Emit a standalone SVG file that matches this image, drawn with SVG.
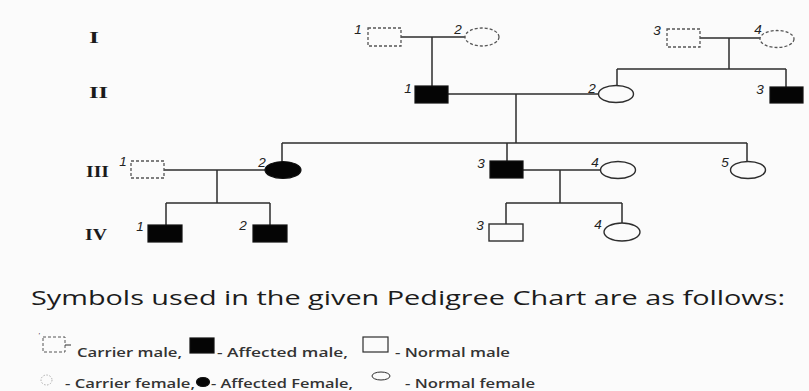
<svg xmlns="http://www.w3.org/2000/svg" width="809" height="391" viewBox="0 0 809 391">
<style>
.bg{fill:#fbfbfb}
.ln{stroke:#2e2e2e;stroke-width:1.5;fill:none}
.car{fill:#fbfbfb;stroke:#555;stroke-width:1.3;stroke-dasharray:3 2}
.aff{fill:#050505;stroke:#111;stroke-width:1.2}
.nor{fill:#fbfbfb;stroke:#2e2e2e;stroke-width:1.4}
.num{font-family:"Liberation Sans",sans-serif;font-style:italic;font-size:13.5px;fill:#222;text-anchor:middle}
.gen{font-family:"Liberation Serif",serif;font-weight:bold;font-size:16px;fill:#1a1a1a}
.title{font-family:"Open Sans",sans-serif;font-size:20px;fill:#1c1c1c}
.leg{font-family:"Open Sans",sans-serif;font-weight:600;font-size:13px;fill:#333}
</style>
<rect class="bg" x="0" y="0" width="809" height="391"/>
<g id="generation-labels">
<text class="gen" x="89" y="43" textLength="10" lengthAdjust="spacingAndGlyphs">I</text>
<text class="gen" x="89" y="98" textLength="19" lengthAdjust="spacingAndGlyphs">II</text>
<text class="gen" x="86" y="177" textLength="23" lengthAdjust="spacingAndGlyphs">III</text>
<text class="gen" x="85" y="240" textLength="22" lengthAdjust="spacingAndGlyphs">IV</text>
</g>
<g id="connectors">
<path class="ln" d="M401,37 H465 M432,37 V86"/>
<path class="ln" d="M700,38 H760 M729,38 V69 M617,69 H786 M617,69 V86 M786,69 V87"/>
<path class="ln" d="M448,94 H598 M516,94 V143"/>
<path class="ln" d="M282,143 H747 M282,143 V162 M507,143 V161 M747,143 V162"/>
<path class="ln" d="M164,170 H265 M217,170 V203 M166,203 H270 M166,203 V225 M270,203 V225"/>
<path class="ln" d="M523,170 H601 M560,170 V203 M506,203 H622 M506,203 V224 M622,203 V223"/>
</g>
<g id="I-1"><rect class="car" x="368" y="28" width="33" height="18"/><text class="num" x="358" y="34">1</text></g>
<g id="I-2"><ellipse class="car" cx="482" cy="37" rx="17" ry="9"/><text class="num" x="458" y="34">2</text></g>
<g id="I-3"><rect class="car" x="667" y="29" width="33" height="18"/><text class="num" x="657" y="35">3</text></g>
<g id="I-4"><ellipse class="car" cx="777" cy="39" rx="17" ry="8.5"/><text class="num" x="758" y="34">4</text></g>
<g id="II-1"><rect class="aff" x="415" y="86" width="33" height="17"/><text class="num" x="408" y="93">1</text></g>
<g id="II-2"><ellipse class="nor" cx="616" cy="94" rx="17.5" ry="8.5"/><text class="num" x="592" y="93">2</text></g>
<g id="II-3"><rect class="aff" x="770" y="87" width="33" height="16"/><text class="num" x="760" y="94">3</text></g>
<g id="III-1"><rect class="car" x="131" y="161" width="33" height="17"/><text class="num" x="123" y="166">1</text></g>
<g id="III-2"><ellipse class="aff" cx="283" cy="170" rx="18" ry="8.5"/><text class="num" x="262" y="167">2</text></g>
<g id="III-3"><rect class="aff" x="490" y="161" width="33" height="17"/><text class="num" x="481" y="168">3</text></g>
<g id="III-4"><ellipse class="nor" cx="618" cy="170" rx="17.5" ry="8.5"/><text class="num" x="595" y="167">4</text></g>
<g id="III-5"><ellipse class="nor" cx="748" cy="170" rx="17.5" ry="8.5"/><text class="num" x="725" y="167">5</text></g>
<g id="IV-1"><rect class="aff" x="148" y="225" width="34" height="17"/><text class="num" x="140" y="231">1</text></g>
<g id="IV-2"><rect class="aff" x="253" y="225" width="34" height="17"/><text class="num" x="243" y="230">2</text></g>
<g id="IV-3"><rect class="nor" x="489" y="224" width="34" height="17"/><text class="num" x="480" y="230">3</text></g>
<g id="IV-4"><ellipse class="nor" cx="622" cy="232" rx="18" ry="9"/><text class="num" x="598" y="229">4</text></g>
<g id="legend">
<text class="num" x="39" y="338" style="font-size:7px">'</text>
<rect class="car" x="43" y="337" width="22" height="15" style="stroke-width:1"/>
<path class="ln" d="M65,345 H71" style="stroke-width:1"/>
<text class="title" x="31" y="305" textLength="754" lengthAdjust="spacingAndGlyphs">Symbols used in the given Pedigree Chart are as follows:</text>
<text class="leg" x="77" y="357" textLength="105" lengthAdjust="spacingAndGlyphs">Carrier male,</text>
<rect class="aff" x="190" y="338" width="24" height="15"/>
<text class="leg" x="217" y="357" textLength="131" lengthAdjust="spacingAndGlyphs">- Affected male,</text>
<rect class="nor" x="363" y="337" width="25" height="15" style="stroke-width:1.2"/>
<text class="leg" x="395" y="357" textLength="115" lengthAdjust="spacingAndGlyphs">- Normal male</text>
<ellipse class="car" cx="46.5" cy="380" rx="5.5" ry="5" style="stroke-width:0.8;stroke-dasharray:1.5 1.5;stroke:#999"/>
<text class="leg" x="65" y="388" textLength="130" lengthAdjust="spacingAndGlyphs">- Carrier female,</text>
<ellipse class="aff" cx="203" cy="382" rx="6.5" ry="4.5"/>
<text class="leg" x="211" y="388" textLength="142" lengthAdjust="spacingAndGlyphs">- Affected Female,</text>
<ellipse class="nor" cx="381" cy="376" rx="9" ry="4" style="stroke-width:1"/>
<text class="leg" x="405" y="388" textLength="130" lengthAdjust="spacingAndGlyphs">- Normal female</text>
</g>
</svg>
